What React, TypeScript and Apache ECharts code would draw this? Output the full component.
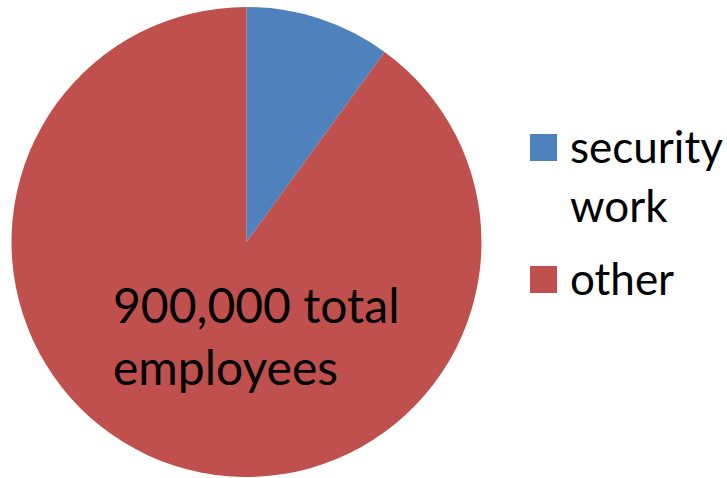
import React, { useEffect, useRef } from "react";
import * as echarts from "echarts";

const categories = ["security work", "other"];
const values = [90000, 810000];
const colors = ["#4F81BD", "#C0504D"];
const legendLabels = ["security\nwork", "other"];
const centerText = "900,000 total\nemployees";

export default function App() {
  const ref = useRef<HTMLDivElement>(null);
  useEffect(() => {
    if (!ref.current) return;
    const chart = echarts.init(ref.current, null, { renderer: "svg" });
    const font = "Lato, 'Open Sans', sans-serif";
    const legendTops = [116, 248];
    const legendSquareTops = [134, 266];
    const legendGraphics: any[] = [];
    categories.forEach((c, i) => {
      legendGraphics.push({
        type: "rect",
        shape: { x: 530, y: legendSquareTops[i], width: 27, height: 27 },
        style: { fill: colors[i] },
      });
      legendGraphics.push({
        type: "text",
        x: 570,
        y: legendTops[i],
        style: {
          text: legendLabels[i],
          fontSize: 44,
          fontFamily: font,
          lineHeight: 59,
          fill: "#000",
          verticalAlign: "top",
          align: "left",
        },
      });
    });
    chart.setOption({
      animation: false,
      series: [
        {
          type: "pie",
          center: [246.5, 242],
          radius: 235,
          startAngle: 90,
          clockwise: true,
          label: { show: false },
          labelLine: { show: false },
          itemStyle: { borderWidth: 0 },
          emphasis: { disabled: true },
          data: categories.map((c, i) => ({
            name: c,
            value: values[i],
            itemStyle: { color: colors[i] },
          })),
        },
      ],
      graphic: [
        ...legendGraphics,
        {
          type: "text",
          x: 113,
          y: 273,
          z: 10,
          style: {
            text: centerText,
            fontSize: 48,
            fontFamily: font,
            lineHeight: 62,
            fill: "#000",
            verticalAlign: "top",
            align: "left",
          },
        },
      ],
    });
    return () => chart.dispose();
  }, []);
  return (
    <div
      ref={ref}
      style={{ position: "fixed", left: 0, top: 0, width: 727, height: 478, background: "#fff" }}
    />
  );
}
